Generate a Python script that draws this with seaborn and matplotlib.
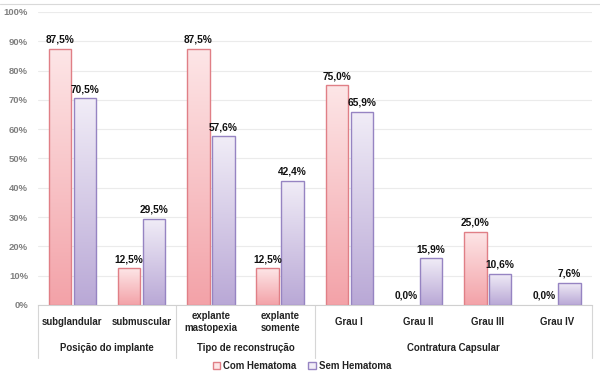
import numpy as np
import pandas as pd
import matplotlib
matplotlib.use("Agg")
import matplotlib.pyplot as plt
import matplotlib.colors as mcolors
from matplotlib.patches import Patch
from matplotlib.lines import Line2D
import seaborn as sns

# ==========================================
# Data
# ==========================================
categories = ["subglandular", "submuscular", "explante\nmastopexia", "explante\nsomente",
              "Grau I", "Grau II", "Grau III", "Grau IV"]
com_hematoma = [87.5, 12.5, 87.5, 12.5, 75.0, 0.0, 25.0, 0.0]
sem_hematoma = [70.5, 29.5, 57.6, 42.4, 65.9, 15.9, 10.6, 7.6]
series_names = ["Com Hematoma", "Sem Hematoma"]
groups = ["Posição do implante", "Tipo de reconstrução", "Contratura Capsular"]
group_sizes = [2, 2, 4]
y_ticks = list(range(0, 101, 10))

df = pd.DataFrame({
    "categoria": categories * 2,
    "serie": [series_names[0]] * len(categories) + [series_names[1]] * len(categories),
    "valor": com_hematoma + sem_hematoma,
})

# colours: (top, bottom, edge)
pal = {
    "Com Hematoma": ("#fde6e7", "#f3a2a8", "#e07f86"),
    "Sem Hematoma": ("#f1edf7", "#b9a8d6", "#9684c2"),
}

sns.set_style("white")
plt.rcParams["font.family"] = ["Liberation Sans", "DejaVu Sans"]
plt.rcParams["font.weight"] = "bold"

fig = plt.figure(figsize=(6, 3.74), dpi=100)
ax = fig.add_axes([0.063, 0.1845, 0.923, 0.7835])

sns.barplot(data=df, x="categoria", y="valor", hue="serie", hue_order=series_names,
            palette={k: v[1] for k, v in pal.items()}, width=0.72, gap=0.1,
            legend=False, ax=ax, zorder=2)

# gradient fill on each bar
for cont, name in zip(ax.containers, series_names):
    top, bot, edge = pal[name]
    cmap = mcolors.LinearSegmentedColormap.from_list(name, [bot, top])
    grad = np.linspace(0, 1, 256).reshape(-1, 1)
    for p in cont.patches:
        x0, y0 = p.get_x(), p.get_y()
        w, h = p.get_width(), p.get_height()
        p.set_edgecolor(edge)
        p.set_linewidth(1.0)
        if h <= 0:
            p.set_visible(False)
            continue
        p.set_facecolor("none")
        im = ax.imshow(grad, cmap=cmap, origin="lower", aspect="auto",
                       extent=[x0, x0 + w, y0, y0 + h], zorder=1.5)
        im.set_clip_path(p)
    labels = [f"{v:.1f}%".replace(".", ",") for v in cont.datavalues]
    ax.bar_label(cont, labels=labels, padding=3, fontsize=7.3, fontweight="bold", color="#111111")

ax.set_xlim(-0.5, len(categories) - 0.5)
ax.set_ylim(0, 100)
ax.set_yticks(y_ticks)
ax.set_yticklabels([f"{t}%" for t in y_ticks], fontsize=6.8, color="#808080", fontweight="bold")
ax.grid(axis="y", color="#ebebeb", linewidth=0.8, zorder=0)
ax.set_axisbelow(True)
ax.set_xlabel("")
ax.set_ylabel("")
ax.tick_params(axis="both", length=0, pad=7)
ax.set_xticklabels([])

for s in ["top", "right", "left"]:
    ax.spines[s].set_visible(False)
ax.spines["bottom"].set_color("#d0d0d0")
ax.spines["bottom"].set_linewidth(0.8)

# category and group labels under the axis
trans = ax.get_xaxis_transform()
for i, c in enumerate(categories):
    ax.text(i, -0.058, c, transform=trans, ha="center", va="center", fontsize=6.9,
            fontweight="bold", color="#222222", linespacing=1.35)

start = -0.5
bounds = [start]
for g, n in zip(groups, group_sizes):
    end = start + n
    ax.text((start + end) / 2, -0.147, g, transform=trans, ha="center", va="center",
            fontsize=6.9, fontweight="bold", color="#222222")
    bounds.append(end)
    start = end
for b in bounds:
    ax.plot([b, b], [0, -0.18], transform=trans, color="#d6d6d6", lw=0.8, clip_on=False)

# top border of the chart
fig.add_artist(Line2D([0, 1], [0.99, 0.99], transform=fig.transFigure, color="#d9d9d9", lw=0.8))

handles = [Patch(facecolor=pal[n][0], edgecolor=pal[n][2], label=n) for n in series_names]
leg = fig.legend(handles=handles, loc="center", bbox_to_anchor=(0.503, 0.022), ncol=2,
                 frameon=False, fontsize=6.9, handlelength=0.8, handleheight=0.8,
                 handletextpad=0.3, columnspacing=1.2, borderpad=0)
for t in leg.get_texts():
    t.set_fontweight("bold")
    t.set_color("#222222")

fig.savefig("out.png", dpi=100)
